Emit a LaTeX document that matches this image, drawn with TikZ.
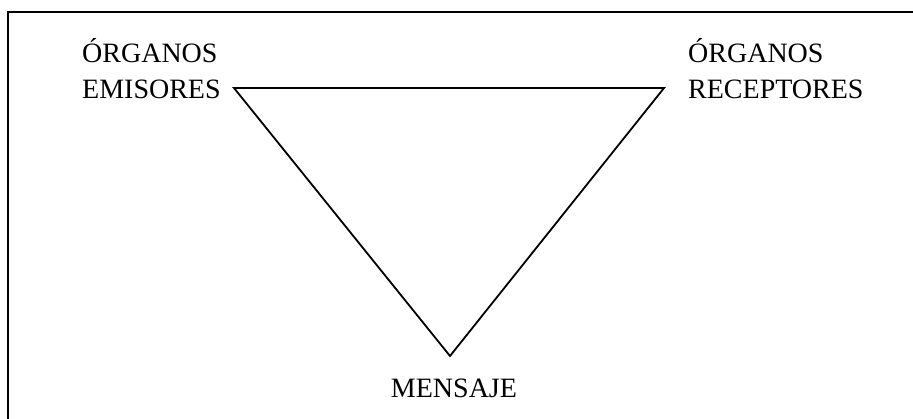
\documentclass[tikz,border=0pt]{standalone}
\usepackage{fontspec}
\setmainfont{Liberation Serif}
\usepackage{tikz}
\usetikzlibrary{arrows.meta,positioning,calc}

\tikzset{
  lbl/.style={inner sep=0pt,align=left,font=\fontsize{28}{36}\selectfont},
  side/.style={line width=1.8pt,line join=miter}
}

\begin{document}
\begin{tikzpicture}[>=Stealth,x=1pt,y=-1pt]
\useasboundingbox (0,0) rectangle (913,419);
% frame, only left and top edges fall inside the page
\draw[line width=2.2pt] (8,419) -- (8,12) -- (913,12);
\coordinate (e) at (234,88);
\coordinate (r) at (664,88);
\coordinate (m) at (450,356);
\node[lbl,anchor=north west] (emisores) at (82,38) {ÓRGANOS\\EMISORES};
\node[lbl,anchor=north west] (receptores) at (688,38) {ÓRGANOS\\RECEPTORES};
\node[lbl,anchor=base] (mensaje) at (454,398) {MENSAJE};
\draw[side] (e)--(r)--(m)--cycle;
\end{tikzpicture}
\end{document}
